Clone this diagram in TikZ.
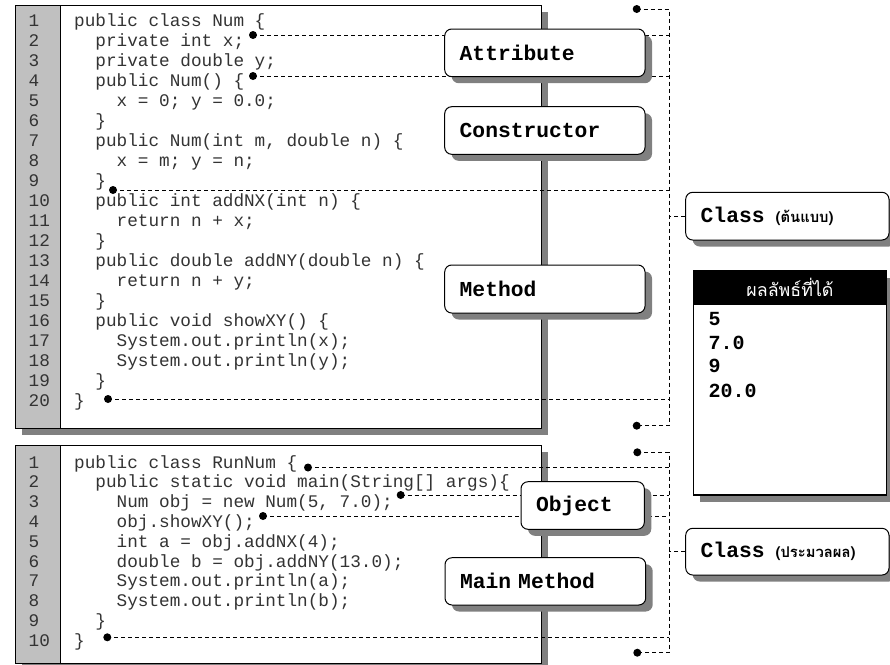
\documentclass[tikz,border=0pt]{standalone}
\usepackage{fontspec}
\newfontfamily\codefont{Liberation Mono}
\newfontfamily\thaifont[Script=Thai]{Loma}
\usetikzlibrary{shadows}
\definecolor{colgray}{HTML}{C0C0C0}
\definecolor{shadowgray}{HTML}{808080}
\definecolor{codeink}{HTML}{333333}
\tikzset{
  code/.style={anchor=mid west, inner sep=0pt, font=\codefont\fontsize{17.7}{20}\selectfont, text=codeink},
  tag/.style={draw=black, line width=1pt, fill=white, rounded corners=7pt,
    inner xsep=15pt, inner ysep=0pt, align=left,
    font=\codefont\bfseries\fontsize{21.3}{24}\selectfont,
    drop shadow={shadow xshift=7pt, shadow yshift=-6.5pt, fill=shadowgray, opacity=1}},
  conn/.style={draw=black, line width=0.9pt, dash pattern=on 4pt off 3pt},
  pin/.style={circle, fill=black, inner sep=0pt, minimum size=8pt},
  result/.style={anchor=mid west, inner sep=0pt, font=\codefont\bfseries\fontsize{20}{24}\selectfont},
}
\newcommand\thaisub[1]{\hspace{11pt}{\thaifont\bfseries\fontsize{14.8}{16}\selectfont #1}}
\begin{document}
\begin{tikzpicture}[x=1pt, y=-1pt]
\useasboundingbox (0,0) rectangle (890,664);

% ---- listing frames ----
\fill[shadowgray] (22,12) rectangle (548,435);
\draw[fill=white, line width=1pt] (15,5) rectangle (541,428);
\draw[fill=colgray, line width=1pt] (15,5) rectangle (60,428);

\fill[shadowgray] (22,452) rectangle (548,672);
\draw[fill=white, line width=1pt] (15,445) rectangle (541,663);
\draw[fill=colgray, line width=1pt] (15,445) rectangle (60,663);

% ---- line numbers ----
\foreach \i in {1,...,20}
  \node[code] (na\i) at (28.5, {24+(\i-1)*20}) {\i};
\foreach \i in {1,...,10}
  \node[code] (nb\i) at (28.5, {466+(\i-1)*19.8}) {\i};

% ---- class Num ----
\node[code] (ca1)  at (74,     24) {public class Num \{};
\node[code] (ca2)  at (95.24,  44) {private int x;};
\node[code] (ca3)  at (95.24,  64) {private double y;};
\node[code] (ca4)  at (95.24,  84) {public Num() \{};
\node[code] (ca5)  at (116.48,104) {x = 0; y = 0.0;};
\node[code] (ca6)  at (95.24, 124) {\}};
\node[code] (ca7)  at (95.24, 144) {public Num(int m, double n) \{};
\node[code] (ca8)  at (116.48,164) {x = m; y = n;};
\node[code] (ca9)  at (95.24, 184) {\}};
\node[code] (ca10) at (95.24, 204) {public int addNX(int n) \{};
\node[code] (ca11) at (116.48,224) {return n + x;};
\node[code] (ca12) at (95.24, 244) {\}};
\node[code] (ca13) at (95.24, 264) {public double addNY(double n) \{};
\node[code] (ca14) at (116.48,284) {return n + y;};
\node[code] (ca15) at (95.24, 304) {\}};
\node[code] (ca16) at (95.24, 324) {public void showXY() \{};
\node[code] (ca17) at (116.48,344) {System.out.println(x);};
\node[code] (ca18) at (116.48,364) {System.out.println(y);};
\node[code] (ca19) at (95.24, 384) {\}};
\node[code] (ca20) at (74,    404) {\}};

% ---- class RunNum ----
\node[code] (cb1)  at (74,     466.0) {public class RunNum \{};
\node[code] (cb2)  at (95.24,  485.8) {public static void main(String[] args)\{};
\node[code] (cb3)  at (116.48, 505.6) {Num obj = new Num(5, 7.0);};
\node[code] (cb4)  at (116.48, 525.4) {obj.showXY();};
\node[code] (cb5)  at (116.48, 545.2) {int a = obj.addNX(4);};
\node[code] (cb6)  at (116.48, 565.0) {double b = obj.addNY(13.0);};
\node[code] (cb7)  at (116.48, 584.8) {System.out.println(a);};
\node[code] (cb8)  at (116.48, 604.6) {System.out.println(b);};
\node[code] (cb9)  at (95.24,  624.4) {\}};
\node[code] (cb10) at (74,     644.2) {\}};

% ---- pins and bracket corners ----
\coordinate (vta) at (669,9);
\coordinate (vba) at (669,425.7);
\coordinate (vtb) at (669,452.3);
\coordinate (vbb) at (669,652.7);

\coordinate (pa1) at (253,35);
\coordinate (pa2) at (253,76);
\coordinate (pa3) at (113,190);
\coordinate (pa4) at (108,399);
\coordinate (pb1) at (308,467.5);
\coordinate (pb2) at (400.7,495);
\coordinate (pb3) at (263,516);
\coordinate (pb4) at (107.3,637.3);
\coordinate (ea1) at (636.7,9);
\coordinate (ea2) at (636.7,425.7);
\coordinate (eb1) at (637.3,452.3);
\coordinate (eb2) at (637.3,652.7);

% ---- dashed leaders ----
\draw[conn] (ea1) -- (vta) -- (vba) -- (ea2);
\draw[conn] (eb1) -- (vtb) -- (vbb) -- (eb2);
\foreach \p in {pa1,pa2,pa3,pa4}
  \draw[conn] (\p) -- (\p -| vta);
\foreach \p in {pb1,pb2,pb3,pb4}
  \draw[conn] (\p) -- (\p -| vtb);

% ---- labels ----
\node[tag, text width=170.3pt, minimum height=47.7pt] (attr) at (544.85,52.85) {Attribute};
\node[tag, text width=170.3pt, minimum height=47.6pt] (ctor) at (544.85,130.5) {Constructor};
\node[tag, text width=170.3pt, minimum height=48pt]   (meth) at (544.85,289) {Method};
\node[tag, text width=93.3pt,  minimum height=47.6pt] (obj)  at (582.65,505.5) {Object};
\node[tag, text width=170.7pt, minimum height=47.3pt] (mainm) at (545.35,581.35) {Main Method};

\node[tag, text width=173.3pt, minimum height=47.7pt] (clsa) at (787.35,216.15)
  {Class\thaisub{(ต้นแบบ)}};
\node[tag, text width=173.3pt, minimum height=46.7pt] (clsb) at (787.35,551.65)
  {Class\thaisub{(ประมวลผล)}};

\draw[conn] (clsa.west) -- (clsa.west -| vta);
\draw[conn] (clsb.west) -- (clsb.west -| vtb);

% ---- output panel ----
\node[draw=black, line width=1.2pt, fill=white, minimum width=193.4pt, minimum height=224pt,
  inner sep=0pt, drop shadow={shadow xshift=7pt, shadow yshift=-7pt, fill=shadowgray, opacity=1}]
  (res) at (790,383) {};
\node[fill=black, draw=black, line width=1.2pt, minimum width=193.4pt, minimum height=33pt, inner sep=0pt,
  text=white, font=\thaifont\fontsize{17.8}{20}\selectfont, anchor=north] (reshead) at (res.north) {ผลลัพธ์ที่ได้};
\node[result] (r1) at (708.3,323.3) {5};
\node[result] (r2) at (708.3,346.9) {7.0};
\node[result] (r3) at (708.3,370.7) {9};
\node[result] (r4) at (708.3,395.0) {20.0};

% ---- pin heads ----
\foreach \p in {pa1,pa2,pa3,pa4,pb1,pb2,pb3,pb4,ea1,ea2,eb1,eb2}
  \node[pin] (dot-\p) at (\p) {};
\end{tikzpicture}
\end{document}
